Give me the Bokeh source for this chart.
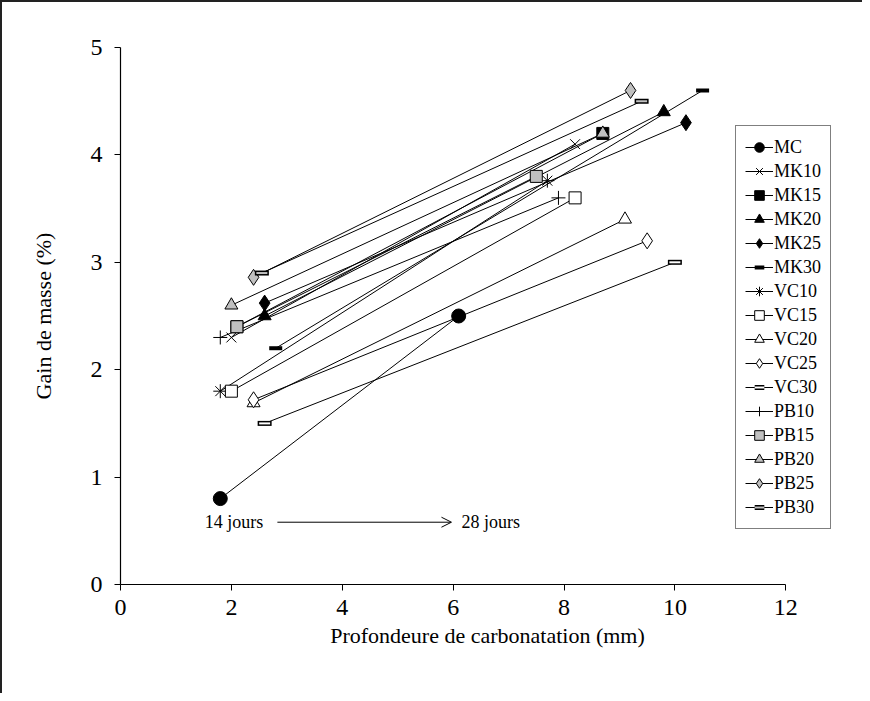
from bokeh.plotting import figure
from bokeh.models import Legend, LegendItem, Arrow, OpenHead, Label, FixedTicker, Range1d
from bokeh.embed import file_html
from bokeh.resources import INLINE

series = ["MC", "MK10", "MK15", "MK20", "MK25", "MK30", "VC10", "VC15", "VC20",
          "VC25", "VC30", "PB10", "PB15", "PB20", "PB25", "PB30"]
# profondeur (mm) et gain de masse (%) a 14 et 28 jours
x14 = [1.8, 2.0, 2.1, 2.6, 2.6, 2.8, 1.8, 2.0, 2.4, 2.4, 2.6, 1.8, 2.1, 2.0, 2.4, 2.55]
y14 = [0.8, 2.3, 2.4, 2.5, 2.62, 2.2, 1.8, 1.8, 1.69, 1.72, 1.5, 2.3, 2.4, 2.6, 2.86, 2.9]
x28 = [6.1, 8.2, 8.7, 9.8, 10.2, 10.5, 7.7, 8.2, 9.1, 9.5, 10.0, 7.9, 7.5, 8.7, 9.2, 9.4]
y28 = [2.5, 4.1, 4.2, 4.4, 4.3, 4.6, 3.76, 3.6, 3.4, 3.2, 3.0, 3.6, 3.8, 4.2, 4.6, 4.5]
x_ticks = [0, 2, 4, 6, 8, 10, 12]
y_ticks = [0, 1, 2, 3, 4, 5]

GRAY = "#c0c0c0"
styles = {
    "MC": ("circle", "black", 14), "MK10": ("x", "black", 14), "MK15": ("square", "black", 12),
    "MK20": ("triangle", "black", 13), "MK25": ("diamond", "black", 16), "MK30": ("bar", "black", 0),
    "VC10": ("asterisk", "black", 14), "VC15": ("square", "white", 12), "VC20": ("triangle", "white", 13),
    "VC25": ("diamond", "white", 16), "VC30": ("bar", "white", 0), "PB10": ("cross", "black", 14),
    "PB15": ("square", GRAY, 12), "PB20": ("triangle", GRAY, 13), "PB25": ("diamond", GRAY, 16),
    "PB30": ("bar", GRAY, 0),
}

FONT = "Liberation Serif"

# frame: x 0..12 over 665 px; frame extended right so the legend fits
p = figure(width=862, height=693, output_backend="svg", toolbar_location=None,
           x_range=Range1d(0, 13.24), y_range=Range1d(0, 5),
           min_border_left=118, min_border_right=10, min_border_top=45, min_border_bottom=111)
p.styles = {"border-top": "2px solid #222", "border-left": "2px solid #222", "box-sizing": "border-box"}
p.outline_line_color = None
p.xgrid.grid_line_color = None
p.ygrid.grid_line_color = None
p.xaxis.ticker = FixedTicker(ticks=x_ticks)
p.yaxis.ticker = FixedTicker(ticks=y_ticks)
p.xaxis.bounds = (0, 12)
for ax in (p.xaxis[0], p.yaxis[0]):
    ax.axis_line_color = "black"
    ax.axis_line_width = 1.2
    ax.major_tick_line_color = "black"
    ax.major_tick_out = 6
    ax.major_tick_in = 0
    ax.minor_tick_line_color = None
    ax.major_label_text_font = FONT
    ax.major_label_text_font_size = "24px"
    ax.major_label_text_color = "black"
    ax.axis_label_text_font = FONT
    ax.axis_label_text_font_size = "22px"
    ax.axis_label_text_font_style = "normal"
    ax.axis_label_text_color = "black"
p.xaxis.axis_label = "Profondeure de carbonatation (mm)"
p.yaxis.axis_label = "Gain de masse (%)"
p.xaxis.major_label_standoff = 9
p.yaxis.major_label_standoff = 12
p.xaxis.axis_label_standoff = 5
p.yaxis.axis_label_standoff = 32

items = []
for i, name in enumerate(series):
    xs = [x14[i], x28[i]]
    ys = [y14[i], y28[i]]
    rs = [p.line(xs, ys, line_color="black", line_width=1)]
    marker, fill, size = styles[name]
    if marker == "bar":
        if fill == "black":
            rs.append(p.scatter(xs, ys, marker="dash", size=13, line_color="black", line_width=4))
        else:
            rs.append(p.scatter(xs, ys, marker="dash", size=14, line_color="black", line_width=5))
            rs.append(p.scatter(xs, ys, marker="dash", size=11, line_color=fill, line_width=2))
    elif marker in ("x", "asterisk", "cross"):
        rs.append(p.scatter(xs, ys, marker=marker, size=size, line_color="black", line_width=1))
    else:
        rs.append(p.scatter(xs, ys, marker=marker, size=size, fill_color=fill,
                            line_color="black", line_width=1))
    items.append(LegendItem(label=name, renderers=rs))

legend = Legend(items=items, location=(615, 55), label_text_font=FONT,
                label_text_font_size="18px", label_text_color="black",
                glyph_width=28, glyph_height=24, label_height=24, spacing=0,
                padding=9, margin=0, label_standoff=1,
                border_line_color="black", border_line_width=1.2,
                background_fill_color="white", background_fill_alpha=1)
p.add_layout(legend, "center")

# annotation 14 jours -> 28 jours
p.add_layout(Label(x=1.52, y=0.58, text="14 jours", text_font=FONT, text_font_size="18px",
                   text_color="black", text_baseline="middle"))
p.add_layout(Label(x=6.15, y=0.58, text="28 jours", text_font=FONT, text_font_size="18px",
                   text_color="black", text_baseline="middle"))
p.add_layout(Arrow(x_start=2.83, y_start=0.58, x_end=5.97, y_end=0.58, line_width=1,
                   line_color="black",
                   end=OpenHead(size=10, line_width=1, line_color="black")))

open("out.html", "w").write(file_html(p, INLINE))
